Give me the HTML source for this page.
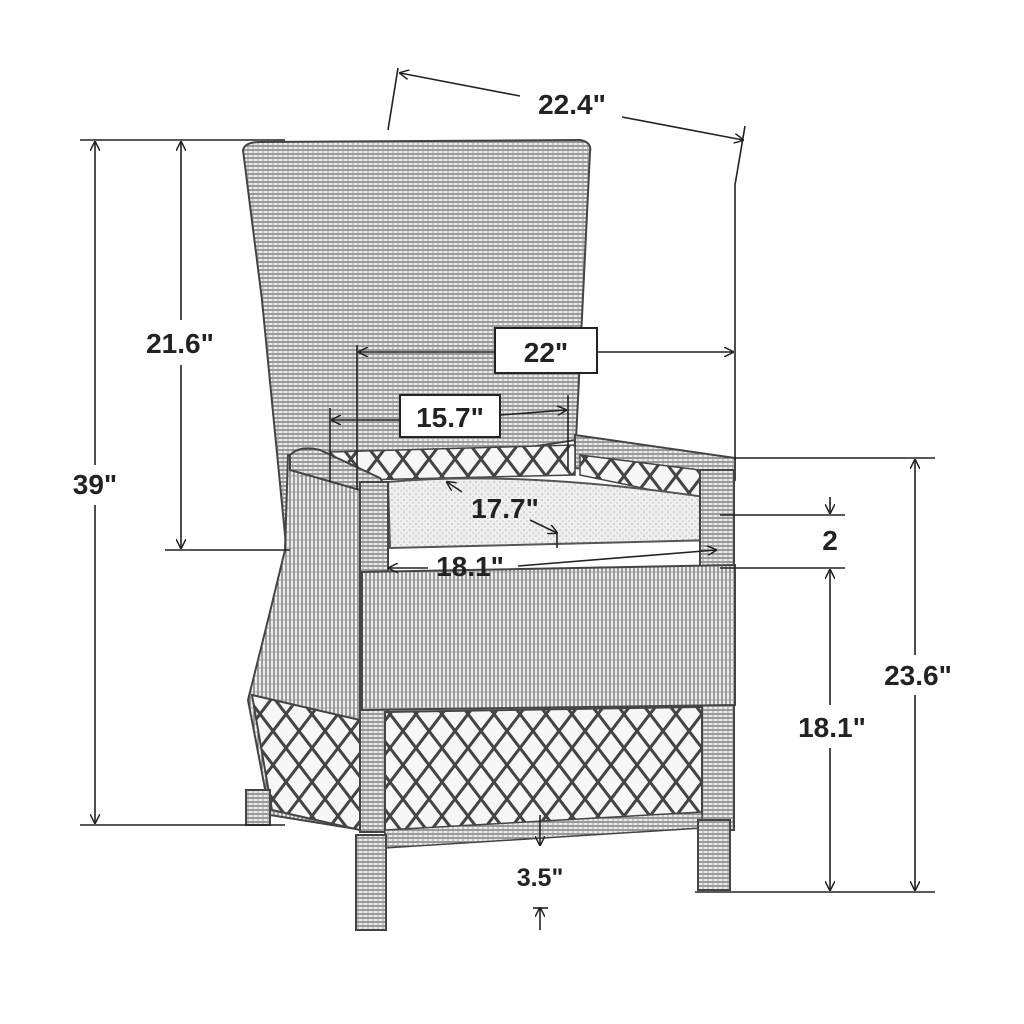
<!DOCTYPE html>
<html><head><meta charset="utf-8"><style>
html,body{margin:0;padding:0;background:#fff}
svg{display:block}
text{font-family:"Liberation Sans",Arial,sans-serif;font-weight:bold;fill:#222}
</style></head><body>
<svg width="1024" height="1024" viewBox="0 0 1024 1024" xmlns="http://www.w3.org/2000/svg">
<defs>
<pattern id="wk" width="10" height="8" patternUnits="userSpaceOnUse">
<rect width="10" height="8" fill="#ececec"/>
<path d="M0 2H10M0 6H10" stroke="#6a6a6a" stroke-width="1.2"/>
<path d="M3 0V8M8 0V8" stroke="#999" stroke-width="0.9"/>
</pattern>
<pattern id="wv" width="8" height="8" patternUnits="userSpaceOnUse">
<rect width="8" height="8" fill="#ededed"/>
<path d="M2 0V8M6 0V8" stroke="#666" stroke-width="1.2"/>
<path d="M0 4H8" stroke="#999" stroke-width="0.9"/>
</pattern>
<pattern id="lat" width="26" height="34" patternUnits="userSpaceOnUse">
<rect width="26" height="34" fill="#f7f7f7"/>
<path d="M0 0L26 34M26 0L0 34" stroke="#444" stroke-width="3"/>
</pattern>
<pattern id="cush" width="6" height="6" patternUnits="userSpaceOnUse">
<rect width="6" height="6" fill="#f0f0f0"/>
<circle cx="2" cy="2" r="0.8" fill="#aaa"/><circle cx="5" cy="5" r="0.7" fill="#bbb"/>
</pattern>
<marker id="ar" markerWidth="10" markerHeight="10" refX="9" refY="5" orient="auto" markerUnits="userSpaceOnUse">
<path d="M0 0L10 5L0 10" fill="none" stroke="#222" stroke-width="1.5"/>
</marker>
</defs>

<path d="M243 150 Q245 142 260 142 L580 140 Q592 142 590 152 L576 440 L380 470 L290 455 L286 545 L262 300 Z" fill="url(#wk)" stroke="#444" stroke-width="2"/>
<path d="M288 455 L370 480 L362 830 L270 815 L248 700 L268 620 L285 550 Z" fill="url(#wv)" stroke="#444" stroke-width="2"/>
<path d="M252 695 L360 720 L360 830 L272 810 Z" fill="url(#lat)" stroke="#444" stroke-width="2"/>
<path d="M575 435 L735 458 L735 480 L700 482 L575 468 Z" fill="url(#wk)" stroke="#444" stroke-width="2"/>
<path d="M580 455 L700 470 L700 500 L580 475 Z" fill="url(#lat)" stroke="#444" stroke-width="1.5"/>
<path d="M330 452 L575 445 L575 475 L360 480 Z" fill="url(#lat)" stroke="#444" stroke-width="1.5"/>
<path d="M290 455 Q300 445 320 450 L380 478 L390 495 L360 490 L290 470 Z" fill="url(#wk)" stroke="#444" stroke-width="2"/>
<path d="M388 482 Q520 470 712 498 L715 540 L390 548 Z" fill="url(#cush)" stroke="#555" stroke-width="2"/>
<rect x="360" y="482" width="28" height="350" fill="url(#wk)" stroke="#444" stroke-width="2"/>
<rect x="700" y="470" width="34" height="360" fill="url(#wk)" stroke="#444" stroke-width="2"/>
<path d="M362 572 L735 565 L735 705 L362 710 Z" fill="url(#wv)" stroke="#444" stroke-width="2"/>
<path d="M385 712 L702 707 L702 815 L385 838 Z" fill="url(#lat)" stroke="#444" stroke-width="2"/>
<path d="M385 830 L702 812 L702 828 L385 848 Z" fill="url(#wk)" stroke="#444" stroke-width="1.5"/>
<rect x="356" y="835" width="30" height="95" fill="url(#wk)" stroke="#444" stroke-width="2"/>
<rect x="698" y="820" width="32" height="70" fill="url(#wk)" stroke="#444" stroke-width="2"/>
<rect x="246" y="790" width="24" height="35" fill="url(#wk)" stroke="#444" stroke-width="2"/>

<g stroke="#222" stroke-width="1.6" fill="none">
<line x1="80" y1="140" x2="285" y2="140"/>
<line x1="165" y1="550" x2="290" y2="550"/>
<line x1="80" y1="825" x2="285" y2="825"/>
<line x1="95" y1="465" x2="95" y2="142" marker-end="url(#ar)"/>
<line x1="95" y1="505" x2="95" y2="823" marker-end="url(#ar)"/>
<line x1="181" y1="320" x2="181" y2="142" marker-end="url(#ar)"/>
<line x1="181" y1="365" x2="181" y2="548" marker-end="url(#ar)"/>
<line x1="735" y1="458" x2="935" y2="458"/>
<line x1="720" y1="515" x2="845" y2="515"/>
<line x1="720" y1="568" x2="845" y2="568"/>
<line x1="695" y1="892" x2="935" y2="892"/>
<line x1="915" y1="655" x2="915" y2="460" marker-end="url(#ar)"/>
<line x1="915" y1="695" x2="915" y2="890" marker-end="url(#ar)"/>
<line x1="830" y1="705" x2="830" y2="570" marker-end="url(#ar)"/>
<line x1="830" y1="748" x2="830" y2="890" marker-end="url(#ar)"/>
<line x1="830" y1="497" x2="830" y2="513" marker-end="url(#ar)"/>
<line x1="398" y1="68" x2="388" y2="130"/>
<line x1="745" y1="126" x2="735" y2="185"/>
<line x1="735" y1="185" x2="735" y2="460"/>
<line x1="520" y1="96" x2="400" y2="73" marker-end="url(#ar)"/>
<line x1="622" y1="117" x2="743" y2="140" marker-end="url(#ar)"/>
<line x1="357" y1="345" x2="357" y2="490"/>
<line x1="495" y1="352" x2="359" y2="352" marker-end="url(#ar)"/>
<line x1="597" y1="352" x2="733" y2="352" marker-end="url(#ar)"/>
<line x1="330" y1="408" x2="330" y2="482"/>
<line x1="568" y1="395" x2="568" y2="470"/>
<line x1="400" y1="420" x2="332" y2="420" marker-end="url(#ar)"/>
<line x1="500" y1="415" x2="566" y2="410" marker-end="url(#ar)"/>
<line x1="462" y1="492" x2="447" y2="482" marker-end="url(#ar)"/>
<line x1="530" y1="520" x2="557" y2="533" marker-end="url(#ar)"/>
<line x1="557" y1="533" x2="557" y2="548"/>
<line x1="428" y1="568" x2="389" y2="568" marker-end="url(#ar)"/>
<line x1="518" y1="566" x2="716" y2="550" marker-end="url(#ar)"/>
<line x1="540" y1="815" x2="540" y2="845" marker-end="url(#ar)"/>
<line x1="540" y1="930" x2="540" y2="908" marker-end="url(#ar)"/>
<line x1="533" y1="908" x2="548" y2="908"/>
</g>
<rect x="495" y="328" width="102" height="45" fill="#fff" stroke="#222" stroke-width="2"/>
<rect x="400" y="395" width="100" height="42" fill="#fff" stroke="#222" stroke-width="2"/>

<g font-size="28" text-anchor="middle">
<text x="95" y="494">39"</text>
<text x="180" y="353">21.6"</text>
<text x="572" y="114">22.4"</text>
<text x="546" y="362">22"</text>
<text x="450" y="427">15.7"</text>
<text x="505" y="518">17.7"</text>
<text x="470" y="576">18.1"</text>
<text x="830" y="550">2</text>
<text x="918" y="685">23.6"</text>
<text x="832" y="737">18.1"</text>
<text x="540" y="886" font-size="25">3.5"</text>
</g>
</svg>
</body></html>
